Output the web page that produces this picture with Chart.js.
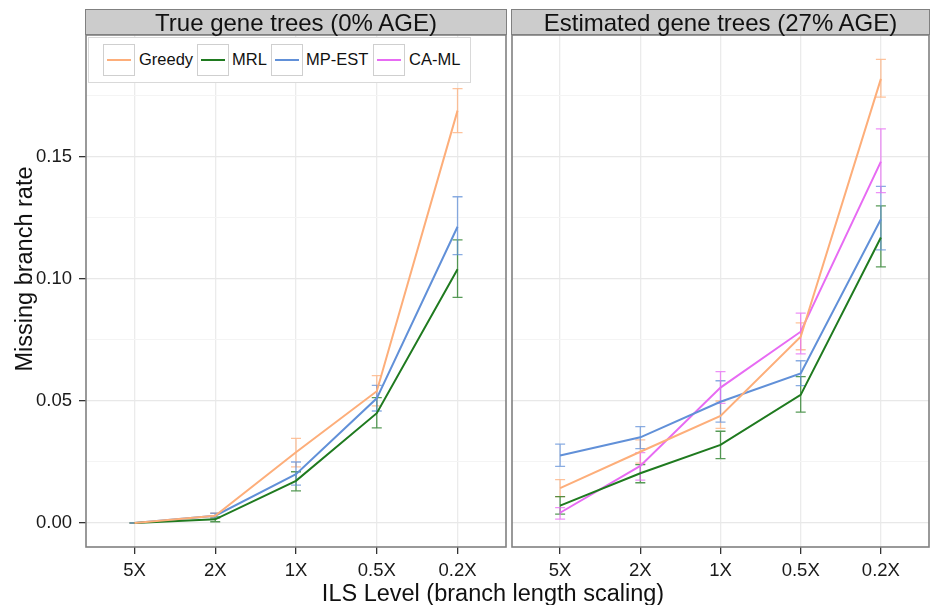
<!DOCTYPE html>
<html><head><meta charset="utf-8">
<script src="https://cdn.jsdelivr.net/npm/chart.js@4/dist/chart.umd.min.js"></script>
<style>
body{margin:0;background:#fff;width:931px;height:605px;overflow:hidden;position:relative;font-family:"Liberation Sans",Arial,sans-serif;}
canvas{position:absolute;top:0;}
.strip{position:absolute;top:9px;height:24px;background:#cccccc;border:1.5px solid #808080;box-sizing:content-box;text-align:center;font-size:24px;line-height:25px;color:#111;white-space:nowrap;}
.legend{position:absolute;left:88px;top:37px;width:381px;height:44px;background:#fff;border:1.5px solid #d9d9d9;}
.key{position:absolute;top:6px;width:30px;height:30px;border:1.5px solid #cfcfcf;background:#fff;}
.key span{position:absolute;left:3px;right:3px;top:14px;height:2px;}
.lt{position:absolute;top:12px;font-size:16.5px;color:#111;line-height:19px;white-space:nowrap;}
.xt{position:absolute;left:0;width:986px;top:580px;text-align:center;font-size:23.5px;line-height:27px;color:#111;}
.yt{position:absolute;left:-126.5px;top:255px;width:300px;height:28px;line-height:28px;text-align:center;font-size:23.5px;color:#111;transform:rotate(-90deg);white-space:nowrap;}
</style></head><body>
<canvas id="c1" width="510" height="605" style="left:0;width:510px;height:605px"></canvas>
<canvas id="c2" width="421" height="605" style="left:510px;width:421px;height:605px"></canvas>
<div class="strip" style="left:85px;width:420px">True gene trees (0% AGE)</div>
<div class="strip" style="left:511px;width:417px">Estimated gene trees (27% AGE)</div>
<div class="legend" id="legend"></div>
<div class="xt">ILS Level (branch length scaling)</div>
<div class="yt">Missing branch rate</div>
<script>
// ---- data ----
const categories = ['5X','2X','1X','0.5X','0.2X'];
const yTicks = [0, 0.025, 0.05, 0.075, 0.1, 0.125, 0.15, 0.175];
const seriesNames = ['Greedy','MRL','MP-EST','CA-ML'];
const seriesColors = ['#FDAE7A','#1F7A1F','#6190D8','#E76BF3'];

// True gene trees (0% AGE)
const greedyTrue   = [0, 0.003, 0.029, 0.054, 0.169];
const greedyTrueLo = [0, 0.002, 0.023, 0.048, 0.160];
const greedyTrueHi = [0, 0.004, 0.0347, 0.0604, 0.178];
const mrlTrue      = [0, 0.0015, 0.0173, 0.045, 0.104];
const mrlTrueLo    = [0, 0.0005, 0.0132, 0.039, 0.0925];
const mrlTrueHi    = [0, 0.0025, 0.021, 0.0514, 0.116];
const mpestTrue    = [0, 0.003, 0.020, 0.0511, 0.1214];
const mpestTrueLo  = [0, 0.002, 0.0155, 0.0459, 0.110];
const mpestTrueHi  = [0, 0.004, 0.025, 0.0564, 0.1337];

// Estimated gene trees (27% AGE)
const greedyEst   = [0.0143, 0.0292, 0.0439, 0.0763, 0.182];
const greedyEstLo = [0.0108, 0.0245, 0.0388, 0.071, 0.1745];
const greedyEstHi = [0.0178, 0.0341, 0.050, 0.082, 0.190];
const mrlEst      = [0.0071, 0.0204, 0.032, 0.0525, 0.117];
const mrlEstLo    = [0.0036, 0.0165, 0.0264, 0.0454, 0.105];
const mrlEstHi    = [0.0108, 0.0239, 0.0376, 0.060, 0.130];
const mpestEst    = [0.0277, 0.0351, 0.0497, 0.0613, 0.1245];
const mpestEstLo  = [0.0232, 0.0305, 0.0413, 0.0563, 0.1119];
const mpestEstHi  = [0.0323, 0.0395, 0.0583, 0.0665, 0.138];
const camlEst     = [0.0042, 0.0234, 0.0555, 0.0784, 0.1481];
const camlEstLo   = [0.0016, 0.0176, 0.049, 0.0693, 0.1354];
const camlEstHi   = [0.0063, 0.0288, 0.062, 0.086, 0.1615];

// ---- legend ----
const lg = document.getElementById('legend');
const keyX = [14, 108, 182, 284], txtX = [50, 143, 217, 320];
seriesNames.forEach((n,i)=>{
  const k=document.createElement('div');k.className='key';k.style.left=keyX[i]+'px';
  const s=document.createElement('span');s.style.background=seriesColors[i];k.appendChild(s);lg.appendChild(k);
  const t=document.createElement('div');t.className='lt';t.style.left=txtX[i]+'px';t.textContent=n;lg.appendChild(t);
});

function ds(idx, vals, lo, hi){
  return {label: seriesNames[idx], data: vals.map((v,i)=>({x:i+1,y:v})), lo, hi,
    borderColor: seriesColors[idx], backgroundColor: seriesColors[idx],
    borderWidth: 2, pointRadius: 0, tension: 0, fill:false};
}

const errPlugin = {
  id:'err',
  beforeDatasetsDraw(chart){
    const {ctx, scales:{x,y}} = chart;
    chart.data.datasets.forEach(d=>{
      ctx.save();
      ctx.strokeStyle = d.borderColor; ctx.globalAlpha = 0.75; ctx.lineWidth = 1.3;
      d.data.forEach((p,i)=>{
        const px = x.getPixelForValue(p.x), y1 = y.getPixelForValue(d.lo[i]), y2 = y.getPixelForValue(d.hi[i]);
        ctx.beginPath();
        ctx.moveTo(px,y1);ctx.lineTo(px,y2);
        ctx.moveTo(px-5,y1);ctx.lineTo(px+5,y1);
        ctx.moveTo(px-5,y2);ctx.lineTo(px+5,y2);
        ctx.stroke();
      });
      ctx.restore();
    });
  },
  afterDraw(chart){
    const {ctx, chartArea:a} = chart;
    ctx.save(); ctx.strokeStyle='#808080'; ctx.lineWidth=1.6;
    ctx.strokeRect(a.left, a.top, a.right-a.left, a.bottom-a.top); ctx.restore();
  }
};

const isMajor = v => Math.abs(Math.round(v/0.05)*0.05 - v) < 1e-6;
const FAM = '"Liberation Sans", Arial';

function makeChart(id, datasets, showY, pad){
  return new Chart(document.getElementById(id), {
    type:'line',
    data:{datasets},
    plugins:[errPlugin],
    options:{
      responsive:false, devicePixelRatio:1, animation:false,
      layout:{padding:pad},
      plugins:{legend:{display:false}, tooltip:{enabled:false}},
      scales:{
        x:{type:'linear', min:0.4, max:5.6,
          afterBuildTicks:s=>{s.ticks = categories.map((c,i)=>({value:i+1}));},
          afterFit:s=>{s.height=58;},
          ticks:{callback:v=>categories[v-1], font:{size:18.5, family:FAM}, color:'#1a1a1a', padding:5.5, maxRotation:0, autoSkip:false},
          grid:{color:'#ebebeb', lineWidth:1.3, tickColor:'#333', tickLength:7, drawTicks:true},
          border:{display:false}
        },
        y:{type:'linear', min:-0.00984, max:0.2,
          afterBuildTicks:s=>{s.ticks = yTicks.map(v=>({value:v}));},
          afterFit:s=>{s.width = showY ? 86 : 0;},
          ticks:{display:showY, callback:v=>isMajor(v)?v.toFixed(2):'', font:{size:18.5, family:FAM}, color:'#1a1a1a', padding:7},
          grid:{color:c=>isMajor(c.tick.value)?'#e8e8e8':'#f4f4f4', lineWidth:c=>isMajor(c.tick.value)?1.3:1,
                tickColor:c=>isMajor(c.tick.value)?'#333':'rgba(0,0,0,0)', tickLength:7, drawTicks:showY},
          border:{display:false},
          title:{display:false}
        }
      }
    }
  });
}

makeChart('c1', [
  ds(0, greedyTrue, greedyTrueLo, greedyTrueHi),
  ds(1, mrlTrue, mrlTrueLo, mrlTrueHi),
  ds(2, mpestTrue, mpestTrueLo, mpestTrueHi)
], true, {top:35, left:0, right:4, bottom:0});

makeChart('c2', [
  ds(0, greedyEst, greedyEstLo, greedyEstHi),
  ds(1, mrlEst, mrlEstLo, mrlEstHi),
  ds(2, mpestEst, mpestEstLo, mpestEstHi),
  ds(3, camlEst, camlEstLo, camlEstHi)
], false, {top:35, left:2, right:2, bottom:0});
</script>
</body></html>
